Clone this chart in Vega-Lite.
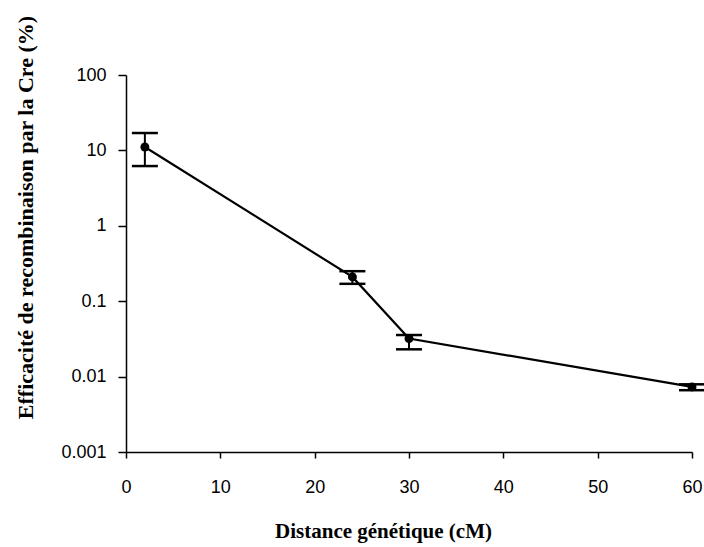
{
  "$schema": "https://vega.github.io/schema/vega-lite/v6.json",
  "autosize": {"type": "none"},
  "padding": {"left": 126, "top": 75, "right": 12, "bottom": 95},
  "width": 566,
  "height": 377,
  "background": "white",
  "config": {"view": {"stroke": null}},
  "data": {"values": [
    {"distance": 2, "eff": 11.1, "lo": 6.2, "hi": 17},
    {"distance": 24, "eff": 0.21, "lo": 0.17, "hi": 0.25},
    {"distance": 30, "eff": 0.032, "lo": 0.023, "hi": 0.0356},
    {"distance": 60, "eff": 0.0073, "lo": 0.0066, "hi": 0.0079}
  ]},
  "encoding": {
    "x": {"field": "distance", "type": "quantitative",
      "scale": {"domain": [0, 60], "nice": false, "zero": false},
      "axis": {"title": "Distance génétique (cM)", "values": [0, 10, 20, 30, 40, 50, 60], "grid": false, "labelFlush": false,
        "domainColor": "black", "domainWidth": 1.5, "tickColor": "black", "tickSize": 6, "tickWidth": 1.5,
        "labelFont": "Liberation Sans", "labelFontSize": 18, "labelColor": "black", "labelPadding": 20,
        "titleFont": "Liberation Serif", "titleFontSize": 21, "titleFontWeight": "bold", "titleColor": "black",
        "titleX": 257, "titleY": 79, "titleBaseline": "middle", "titleAlign": "center"}},
    "y": {"field": "eff", "type": "quantitative",
      "scale": {"type": "log", "domain": [0.001, 100], "nice": false},
      "axis": {"title": "Efficacité de recombinaison par la Cre (%)", "values": [0.001, 0.01, 0.1, 1, 10, 100], "format": "~g", "grid": false,
        "domainColor": "black", "domainWidth": 1.5, "tickColor": "black", "tickSize": 8, "tickWidth": 1.5,
        "labelFont": "Liberation Sans", "labelFontSize": 18, "labelColor": "black", "labelPadding": 12,
        "titleFont": "Liberation Serif", "titleFontSize": 22, "titleFontWeight": "bold", "titleColor": "black",
        "titleX": -101, "titleY": 142, "titleBaseline": "middle", "titleAlign": "center"}}
  },
  "layer": [
    {"mark": {"type": "line", "color": "black", "strokeWidth": 2.2}},
    {"mark": {"type": "point", "filled": true, "color": "black", "size": 80, "opacity": 1}},
    {"mark": {"type": "rule", "color": "black", "strokeWidth": 2}, "encoding": {"y": {"field": "lo", "type": "quantitative"}, "y2": {"field": "hi"}}},
    {"mark": {"type": "tick", "orient": "horizontal", "color": "black", "thickness": 2.5, "size": 26, "opacity": 1}, "encoding": {"y": {"field": "lo", "type": "quantitative"}}},
    {"mark": {"type": "tick", "orient": "horizontal", "color": "black", "thickness": 2.5, "size": 26, "opacity": 1}, "encoding": {"y": {"field": "hi", "type": "quantitative"}}}
  ]
}
